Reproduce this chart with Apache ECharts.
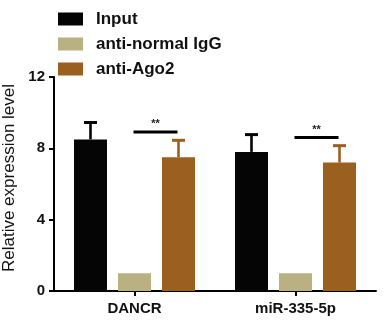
<!DOCTYPE html>
<html>
<head>
<meta charset="utf-8">
<script src="https://cdn.jsdelivr.net/npm/echarts@6/dist/echarts.min.js"></script>
<style>
  html, body { margin: 0; padding: 0; background: #fff; }
  #chart { width: 384px; height: 330px; }
</style>
</head>
<body>
<div id="chart"></div>
<script>
// Categories and group names
const categories = ['DANCR', 'miR-335-5p'];
const groupNames = ['Input', 'anti-normal IgG', 'anti-Ago2'];

// Mean relative expression per group
const inputValues = [8.5, 7.8];
const iggValues = [1.0, 1.0];
const ago2Values = [7.5, 7.2];

// Upper error (SD) per group
const inputErrors = [0.95, 0.97];
const ago2Errors = [0.95, 0.95];

// Significance brackets (IgG vs Ago2): height of the bar line per category
const sigHeights = [8.92, 8.61];
const sigLabels = ['**', '**'];

// Y axis ticks
const yTicks = [0, 4, 8, 12];

const colors = ['#050505', '#bab183', '#9b5f1f'];
const FONT = 'Liberation Sans, Arial, sans-serif';
const TEXT = '#111';

const BAR_W = 33;
const BAR_GAP = 11;

function groupOffset(idx) {
  return (idx - 1) * (BAR_W + BAR_GAP);
}

function errorSeries(name, values, errors, groupIdx, color) {
  return {
    type: 'custom',
    name: name + ' error',
    silent: true,
    z: 5,
    data: values.map((v, i) => [i, v, errors[i]]),
    renderItem: function (params, api) {
      const ci = api.value(0);
      const v = api.value(1);
      const e = api.value(2);
      const base = api.coord([ci, v]);
      const top = api.coord([ci, v + e]);
      const x = base[0] + groupOffset(groupIdx);
      const half = 6.5;
      const style = { stroke: color, lineWidth: 2.6 };
      return {
        type: 'group',
        children: [
          { type: 'line', shape: { x1: x, y1: base[1], x2: x, y2: top[1] }, style: style },
          { type: 'line', shape: { x1: x - half, y1: top[1], x2: x + half, y2: top[1] }, style: { stroke: color, lineWidth: 3 } }
        ]
      };
    }
  };
}

const chart = echarts.init(document.getElementById('chart'), null, { renderer: 'canvas' });

chart.setOption({
  backgroundColor: '#fff',
  animation: false,
  legend: {
    orient: 'vertical',
    left: 58,
    top: 10,
    padding: 0,
    itemWidth: 25,
    itemHeight: 13,
    itemGap: 7,
    icon: 'rect',
    data: groupNames,
    textStyle: {
      fontFamily: FONT,
      fontSize: 17,
      fontWeight: 'bold',
      color: TEXT,
      padding: [0, 0, 0, 8],
      lineHeight: 18
    }
  },
  grid: { left: 54, right: 8, top: 77, bottom: 39, containLabel: false, outerBoundsMode: 'none' },
  xAxis: {
    type: 'category',
    data: categories,
    axisLine: { lineStyle: { color: '#000', width: 2 } },
    axisTick: { show: true, alignWithLabel: true, length: 5, lineStyle: { color: '#000', width: 2 } },
    axisLabel: { fontFamily: FONT, fontSize: 15, fontWeight: 'bold', color: TEXT, margin: 10 }
  },
  yAxis: {
    type: 'value',
    min: yTicks[0],
    max: yTicks[yTicks.length - 1],
    interval: yTicks[1] - yTicks[0],
    name: 'Relative expression level',
    nameLocation: 'middle',
    nameGap: 28,
    nameTextStyle: { fontFamily: FONT, fontSize: 17, color: TEXT, padding: [0, 0, 0, 12] },
    axisLine: { show: true, lineStyle: { color: '#000', width: 2 } },
    axisTick: { show: true, length: 5, lineStyle: { color: '#000', width: 2 } },
    axisLabel: { fontFamily: FONT, fontSize: 15, fontWeight: 'bold', color: TEXT, margin: 9 },
    splitLine: { show: false }
  },
  series: [
    { type: 'bar', name: groupNames[0], data: inputValues, barWidth: BAR_W, barGap: (BAR_GAP / BAR_W * 100) + '%', itemStyle: { color: colors[0] } },
    { type: 'bar', name: groupNames[1], data: iggValues, barWidth: BAR_W, barGap: (BAR_GAP / BAR_W * 100) + '%', itemStyle: { color: colors[1] } },
    { type: 'bar', name: groupNames[2], data: ago2Values, barWidth: BAR_W, barGap: (BAR_GAP / BAR_W * 100) + '%', itemStyle: { color: colors[2] } },
    errorSeries(groupNames[0], inputValues, inputErrors, 0, colors[0]),
    errorSeries(groupNames[2], ago2Values, ago2Errors, 2, colors[2]),
    {
      type: 'custom',
      name: 'significance',
      silent: true,
      z: 6,
      data: sigHeights.map((h, i) => [i, h]),
      renderItem: function (params, api) {
        const ci = api.value(0);
        const p = api.coord([ci, api.value(1)]);
        const x1 = p[0] + groupOffset(1) - 1;
        const x2 = p[0] + groupOffset(2) - 1;
        return {
          type: 'group',
          children: [
            { type: 'line', shape: { x1: x1, y1: p[1], x2: x2, y2: p[1] }, style: { stroke: '#000', lineWidth: 3 } },
            { type: 'text', style: { text: sigLabels[params.dataIndex], x: (x1 + x2) / 2, y: p[1] - 2, align: 'center', verticalAlign: 'bottom', font: 'bold 11px ' + FONT, fill: '#222' } }
          ]
        };
      }
    }
  ]
});
</script>
</body>
</html>
